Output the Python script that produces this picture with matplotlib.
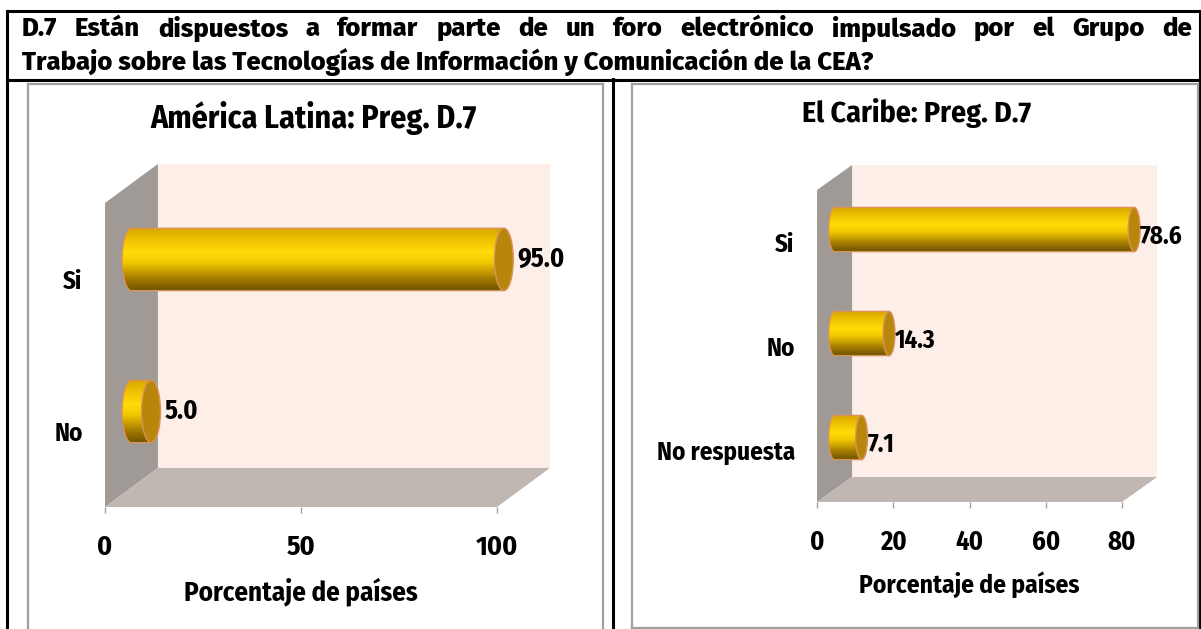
import numpy as np
import matplotlib
matplotlib.use('Agg')
from matplotlib import pyplot as plt
from matplotlib.patches import Polygon, Ellipse, Rectangle
from matplotlib.lines import Line2D
from matplotlib.colors import LinearSegmentedColormap

# datos
header_line1 = "D.7 Están dispuestos a formar parte de un foro electrónico impulsado por el Grupo de"
header_line2 = "Trabajo sobre las Tecnologías de Información y Comunicación de la CEA?"
x_label = "Porcentaje de países"

latina_title = "América Latina: Preg. D.7"
latina_labels = ["No", "Si"]
latina_values = [5.0, 95.0]
latina_ticks = [0, 50, 100]

caribe_title = "El Caribe: Preg. D.7"
caribe_labels = ["No respuesta", "No", "Si"]
caribe_values = [7.1, 14.3, 78.6]
caribe_ticks = [0, 20, 40, 60, 80]

plt.rcParams['font.family'] = ['Fira Sans Condensed', 'PT Sans Narrow', 'DejaVu Sans']
plt.rcParams['font.weight'] = 'bold'
plt.rcParams['font.stretch'] = 'condensed'
HEAD_FONT = ['Fira Sans', 'Fira Sans Condensed', 'DejaVu Sans']

W, H = 1201, 629
fig = plt.figure(figsize=(W / 100, H / 100), dpi=100)


def fx(x):
    return x / W


def fy(y):
    return 1 - y / H


WALL = '#A09A96'
BACK = '#FDEEE7'
FLOOR = '#C0B7B2'
EDGE = '#D9925A'
CAP = '#B8860A'
gold = LinearSegmentedColormap.from_list('gold', [
    (0.0, '#6E5200'), (0.18, '#A07800'), (0.45, '#F2C800'),
    (0.62, '#FFDC0A'), (0.85, '#EDBD00'), (1.0, '#D9A800')])
grad = np.linspace(0, 1, 64).reshape(-1, 1)


def draw_chart(ax, labels, values, ticks, depth_x, depth_y, bar_h, cap_w, txt_off,
               tick_fs, cat_fs, val_fs, lab_fs, lab_y):
    n = len(values)
    y = np.arange(n)
    xmax = ticks[-1]
    y0, y1 = -0.5, n - 0.5
    ax.add_patch(Rectangle((depth_x, y0 + depth_y), xmax, n, fc=BACK, ec='none',
                           clip_on=False, zorder=0))
    ax.add_patch(Polygon([(0, y0), (depth_x, y0 + depth_y), (depth_x, y1 + depth_y), (0, y1)],
                         fc=WALL, ec='none', clip_on=False, zorder=0.5))
    ax.add_patch(Polygon([(0, y0), (xmax, y0), (xmax + depth_x, y0 + depth_y), (depth_x, y0 + depth_y)],
                         fc=FLOOR, ec='none', clip_on=False, zorder=0.6))

    a = cap_w / 2
    t = np.linspace(np.pi / 2, 3 * np.pi / 2, 40)
    for yi, v in zip(y, values):
        yc = yi + depth_y / 2
        xs = depth_x / 2
        xe = xs + v
        pts = list(zip(xs + a * np.cos(t), yc + bar_h / 2 * np.sin(t)))
        pts += [(xe, yc - bar_h / 2), (xe, yc + bar_h / 2)]
        body = Polygon(pts, closed=True, fc='none', ec=EDGE, lw=1.0, zorder=3)
        ax.add_patch(body)
        im = ax.imshow(grad, cmap=gold, extent=(xs - a, xe, yc - bar_h / 2, yc + bar_h / 2),
                       aspect='auto', origin='lower', interpolation='bilinear', zorder=2)
        im.set_clip_path(body)
        ax.add_patch(Ellipse((xe, yc), cap_w, bar_h, fc=CAP, ec=EDGE, lw=1.0, zorder=4))
        ax.annotate(f"{v:.1f}", xy=(xe + a, yc), xytext=txt_off, textcoords='offset points',
                    ha='left', va='center', fontsize=val_fs, color='black', zorder=5,
                    annotation_clip=False)

    # el eje se deja más ancho que xmax para que las barras no se recorten
    ax.set_xlim(0, xmax * 1.25)
    ax.set_ylim(y0, y1)
    for s in ax.spines.values():
        s.set_visible(False)
    ax.set_xticks(ticks)
    ax.set_yticks(y, labels)
    ax.tick_params(axis='x', length=4.5, width=1, color='#A0A0A0', pad=15, labelsize=tick_fs)
    ax.tick_params(axis='y', length=0, pad=16, labelsize=cat_fs)
    ax.set_xlabel(x_label, fontsize=lab_fs, fontweight='bold')
    ax.xaxis.set_label_coords(0.5 / 1.25, lab_y)
    ax.xaxis.label.set_va('center')
    ax.patch.set_visible(False)


# graficos
ax1 = fig.add_axes([fx(105), fy(507), fx(392 * 1.25), (507 - 203) / H])
draw_chart(ax1, latina_labels, latina_values, latina_ticks,
           depth_x=13.5, depth_y=0.257, bar_h=0.41, cap_w=4.8, txt_off=(3, 0),
           tick_fs=20, cat_fs=18, val_fs=19, lab_fs=19.4, lab_y=(507 - 592) / 304)
ax2 = fig.add_axes([fx(817), fy(502), fx(305 * 1.25), (502 - 190) / H])
draw_chart(ax2, caribe_labels, caribe_values, caribe_ticks,
           depth_x=9.2, depth_y=0.24, bar_h=0.425, cap_w=3.1, txt_off=(0, -5),
           tick_fs=19, cat_fs=18, val_fs=18, lab_fs=18.3, lab_y=(502 - 585) / 312)

fig.text(fx(314), fy(118), latina_title, ha='center', va='center', fontsize=23)
fig.text(fx(917), fy(113), caribe_title, ha='center', va='center', fontsize=21.5)

# encabezado: linea 2 a su ancho, linea 1 justificada
renderer = fig.canvas.get_renderer()
t2 = fig.text(fx(22), fy(62), header_line2, ha='left', va='center', fontsize=18.5,
              family=HEAD_FONT, fontstretch='normal', fontweight=800)
words = header_line1.split()
texts = [fig.text(0, fy(29), w, ha='left', va='center', fontsize=18.5,
                  family=HEAD_FONT, fontstretch='normal', fontweight=800) for w in words]
widths = [t.get_window_extent(renderer).width for t in texts]
gap = (1192 - 22 - sum(widths)) / (len(words) - 1)
x = 22
for t, w in zip(texts, widths):
    t.set_x(fx(x))
    x += w + gap

# bordes de la tabla
for xs_, ys_, c, lw in [
    ([6.5, 6.5], [11, 629], 'black', 2.2),
    ([613.5, 613.5], [79, 629], 'black', 2.2),
    ([1200, 1200], [11, 629], 'black', 2.2),
    ([6.5, 1201], [11, 11], 'black', 2.2),
    ([6.5, 1201], [80, 80], 'black', 2.2),
    ([27.5, 27.5], [84, 629], '#A0A0A0', 1.6),
    ([602.5, 602.5], [84, 629], '#A0A0A0', 1.6),
    ([27.5, 602.5], [84, 84], '#A0A0A0', 1.6),
    ([631.5, 631.5], [84, 627.5], '#A0A0A0', 1.6),
    ([1197.5, 1197.5], [84, 627.5], '#A0A0A0', 1.6),
    ([631.5, 1197.5], [84, 84], '#A0A0A0', 1.6),
    ([631.5, 1197.5], [627.5, 627.5], '#A0A0A0', 1.6),
]:
    fig.add_artist(Line2D([fx(v) for v in xs_], [fy(v) for v in ys_], color=c, lw=lw,
                          transform=fig.transFigure))

fig.savefig('out.png', dpi=100)
